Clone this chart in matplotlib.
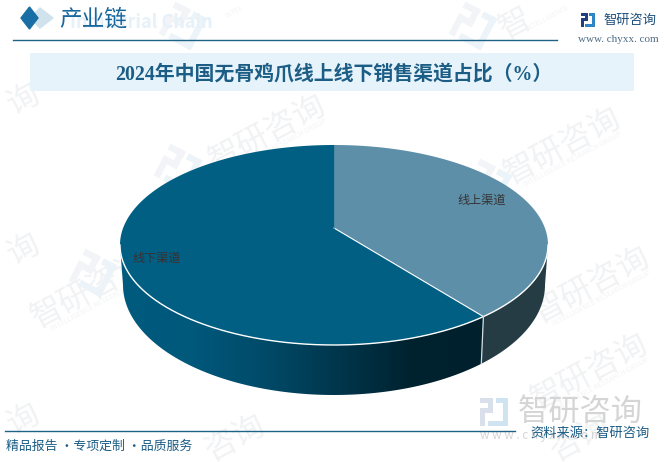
# Pie chart of sales channels, drawn by hand so it looks 3D
import numpy as np
import matplotlib
matplotlib.use('Agg')
import matplotlib.pyplot as plt
from matplotlib.colors import LinearSegmentedColormap
from matplotlib.patches import Polygon, Rectangle
from matplotlib.transforms import Affine2D

plt.rcParams['font.family'] = ['Noto Sans CJK SC', 'DejaVu Sans']

title = '2024年中国无骨鸡爪线上线下销售渠道占比（%）'
categories = ['线上渠道', '线下渠道']
shares = [37.7, 62.3]

fig = plt.figure(figsize=(6.65, 4.62), dpi=100)
ax = fig.add_axes([0, 0, 1, 1])
ax.set_axis_off()
ax.set_xlim(0, 665)
ax.set_ylim(462, 0)


def logo(x, y, s, c1, c2, z=2, angle=0):
    # small square logo made of bars
    tr = Affine2D().rotate_deg_around(x + s / 2, y + s / 2, angle) + ax.transData
    bars = [(0, 0, 0.48, 0.18, c1), (0.3, 0, 0.18, 0.55, c1), (0, 0.37, 0.48, 0.18, c1),
            (0, 0.37, 0.18, 0.63, c1), (0.58, 0, 0.42, 0.18, c2), (0.82, 0, 0.18, 1, c2),
            (0.3, 0.82, 0.7, 0.18, c2)]
    for bx0, by0, bw, bh, c in bars:
        ax.add_patch(Rectangle((x + bx0 * s, y + by0 * s), bw * s, bh * s, color=c, zorder=z,
                               transform=tr, linewidth=0))


# background watermarks
wm_color = '#f1f2f4'
for wx, wy in [(268, 133), (563, 146), (592, 285), (300, 300), (90, 290), (590, 372)]:
    ax.text(wx, wy, '智研咨询', fontsize=23, color=wm_color, rotation=28,
            ha='center', va='center', zorder=1)
    ax.text(wx + 10, wy + 13, 'INTELLIGENCE RESEARCH GROUP', fontsize=5, color='#f3f4f6',
            rotation=28, ha='center', va='center', zorder=1)
for wx, wy, w in [(24, 100, '询'), (24, 250, '询'), (24, 420, '询'),
                  (235, 438, '咨询'), (580, 438, '咨询'), (515, 24, '智')]:
    ax.text(wx, wy, w, fontsize=23, color=wm_color, rotation=28, ha='center', va='center', zorder=1)
ax.text(547, 18, 'INTELLIGENCE', fontsize=5, color='#f3f4f6', rotation=28, ha='center',
        va='center', zorder=1)
ax.text(234, 12, 'INTEL', fontsize=5, color='#f3f4f6', rotation=28, ha='center', va='center', zorder=1)
for lx, ly in [(165, 8), (455, 8), (160, 150), (470, 165), (75, 255)]:
    logo(lx, ly, 36, '#f2f4f7', '#ecf4f9', z=1, angle=28)

# header
ax.add_patch(Polygon([(40, 8), (53, 18), (40, 28), (30, 18)], color='#d0e2ec', zorder=3))
ax.add_patch(Polygon([(29.5, 7), (38, 18), (29.5, 29), (21, 18)], color='#1a6ea6', zorder=4))
ax.text(70, 23, 'Industrial Chain', fontsize=13, fontweight='bold', color='#e6f1f9', zorder=3,
        va='center')
ax.text(59, 19, '产业链', fontsize=16.3, color='#17679c', va='center', zorder=4)
ax.plot([13, 557], [39.5, 39.5], color='#1f6288', lw=1, zorder=3)

logo(581, 13, 14, '#1f3f7f', '#2f84c4', z=3)
ax.text(603, 20, '智研咨询', fontsize=9.5, color='#1d4f7c', va='center', zorder=3)
ax.text(578, 40, 'www. chyxx. com', fontsize=8, family='Liberation Serif', color='#4d6b85',
        va='center', zorder=3)

# title band
ax.add_patch(Rectangle((30, 53), 604, 38, color='#e6f3fb', zorder=2, linewidth=0))
ax.text(334, 75, title, fontsize=14.35, fontweight='bold', family=['Liberation Serif', 'Noto Sans CJK SC'],
        color='#1b5d85', ha='center', va='center', zorder=3)

# pie geometry, in pixels
cx, cy, rx, ry = 334, 245, 214, 100
vy = 228
bx, by, brx, bry = 334, 285, 211, 110
split = 2 * np.pi * shares[0] / sum(shares)


def top_rim(a):
    return np.column_stack([cx + rx * np.sin(a), cy - ry * np.cos(a)])


def low_rim(a):
    return np.column_stack([bx + brx * np.sin(a), by - bry * np.cos(a)])


# side walls
left = np.linspace(split, 1.5 * np.pi, 200)
right = np.linspace(0.5 * np.pi, split, 80)
left_side = np.vstack([top_rim(left), low_rim(left[::-1])])
right_side = np.vstack([top_rim(right), low_rim(right[::-1])])

side_cmap = LinearSegmentedColormap.from_list(
    'side', ['#005b7f', '#00587b', '#004a68', '#00364c', '#00222f', '#00202d'])
grad = np.linspace(0, 1, 256).reshape(1, -1)
im = ax.imshow(grad, cmap=side_cmap, extent=(120, 484, 400, 240), aspect='auto', zorder=4)
left_patch = Polygon(left_side, closed=True, facecolor='none', edgecolor='none', zorder=4)
ax.add_patch(left_patch)
im.set_clip_path(left_patch)
ax.add_patch(Polygon(right_side, closed=True, facecolor='#253c45', edgecolor='none', zorder=4))

# top faces
online_a = np.linspace(0, split, 200)
offline_a = np.linspace(split, 2 * np.pi, 300)
vertex = np.array([[cx, vy]])
colors = ['#5e8fa8', '#005f83']
ax.add_patch(Polygon(np.vstack([vertex, top_rim(online_a)]), closed=True, facecolor=colors[0],
                     edgecolor='none', zorder=5))
ax.add_patch(Polygon(np.vstack([vertex, top_rim(offline_a)]), closed=True, facecolor=colors[1],
                     edgecolor='none', zorder=5))

# white edges
front = np.linspace(0.5 * np.pi, 1.5 * np.pi, 300)
rim = top_rim(front)
ax.plot(rim[:, 0], rim[:, 1], color='white', lw=1, zorder=6)
sp_top = top_rim(np.array([split]))[0]
sp_low = low_rim(np.array([split]))[0]
ax.plot([cx, sp_top[0]], [vy, sp_top[1]], color='white', lw=0.8, zorder=6)
ax.plot([sp_top[0], sp_low[0]], [sp_top[1], sp_low[1]], color='#d8dee0', lw=0.9, zorder=6)
ax.plot([cx, cx], [vy, cy - ry], color='#4a86a3', lw=0.6, zorder=6)

# labels
ax.text(482, 200, categories[0], fontsize=8.7, color='#333333', ha='center', va='center', zorder=7)
ax.text(157, 258, categories[1], fontsize=8.7, color='#3b2f2f', ha='center', va='center', zorder=7)

# footer
logo(480, 398, 28, '#d9dfeb', '#cfe3f1', z=2)
ax.text(518, 412, '智研咨询', fontsize=22.5, color='#d5d5d5', va='center', zorder=2)
ax.text(480, 436, 'w w w . c h y x x . c o m', fontsize=8.5, color='#d5d5d5', va='center', zorder=2)
ax.plot([5, 515], [431, 431], color='#1f6288', lw=1, zorder=3)
ax.text(6, 446, '精品报告 ·专项定制 ·品质服务', fontsize=9.3, color='#1b5d85', va='center', zorder=3)
ax.text(650, 433, '资料来源：智研咨询', fontsize=9.5, color='#1b5d85', ha='right', va='center', zorder=3)

ax.set_xlim(0, 665)
ax.set_ylim(462, 0)
fig.savefig('out.png', dpi=100)
